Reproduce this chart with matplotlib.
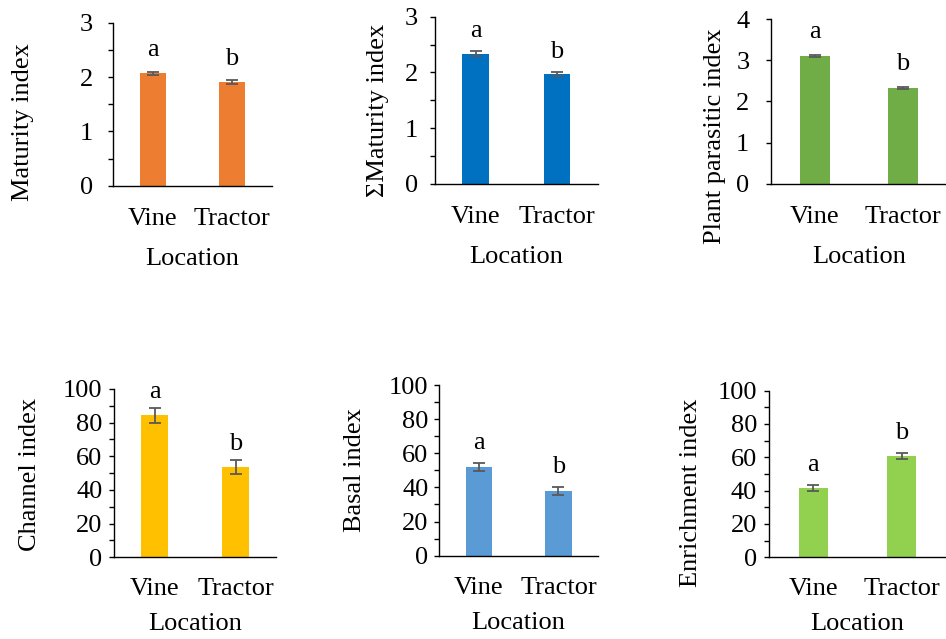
import matplotlib
matplotlib.use("Agg")
import matplotlib.pyplot as plt
from matplotlib.ticker import MultipleLocator

plt.rcParams['font.family'] = ['Liberation Serif', 'DejaVu Serif']

categories = ["Vine", "Tractor"]
ylabels = ["Maturity index", "\u03a3Maturity index", "Plant parasitic index",
           "Channel index", "Basal index", "Enrichment index"]
maturity = [2.07, 1.91]
maturity_err = [0.03, 0.03]
sum_maturity = [2.34, 1.97]
sum_maturity_err = [0.05, 0.04]
plant_parasitic = [3.11, 2.33]
plant_parasitic_err = [0.03, 0.03]
channel = [84.5, 53.7]
channel_err = [4.5, 4.4]
basal = [52.0, 37.9]
basal_err = [2.2, 2.2]
enrichment = [41.6, 60.6]
enrichment_err = [1.6, 1.7]
letters = [["a", "b"]] * 6

values = [maturity, sum_maturity, plant_parasitic, channel, basal, enrichment]
errors = [maturity_err, sum_maturity_err, plant_parasitic_err, channel_err, basal_err, enrichment_err]

colors = ["#ED7D31", "#0070C0", "#70AD47", "#FFC000", "#5B9BD5", "#92D050"]
ylims = [3, 3, 4, 100, 100, 100]
majors = [1, 1, 1, 20, 20, 20]
minors = [0.5, 0.5, 1, 10, 10, 10]
W, H = 946, 639
rects_px = [(113.3, 185.7, 158.4, 163.0), (435, 184.0, 162.7, 167.3), (771, 183.7, 176, 164.4),
            (114.3, 557.3, 161.7, 168.3), (439, 555.7, 159.3, 170.7), (769, 557.3, 177, 166.7)]
label_coords = [(-0.57, 0.39), (-0.35, 0.44), (-0.32, 0.29), (-0.52, 0.49), (-0.53, 0.50), (-0.44, 0.39)]
ypads = [11, 8.5, 12, 5, 4, 5]
letter_pads = [11, 10, 12, 7, 10.5, 10.5]
xpads = [16, 16, 16, 15, 15, 15]
xlabelpads = [13, 13, 13, 9.5, 9.5, 9.5]

fig = plt.figure(figsize=(W / 100, H / 100), dpi=100)
fs = 19
for i in range(6):
    l, b, w, h = rects_px[i]
    ax = fig.add_axes([l / W, 1 - b / H, w / W, h / H])
    x = list(range(len(categories)))
    ax.bar(x, values[i], width=0.33, color=colors[i], zorder=2)
    ax.errorbar(x, values[i], yerr=errors[i], fmt='none', ecolor='#595959',
                elinewidth=1.3, capsize=4, capthick=1.3, zorder=3)
    for j in x:
        ax.annotate(letters[i][j], (j, values[i][j] + errors[i][j]),
                    xytext=(0, letter_pads[i]), textcoords='offset points',
                    ha='center', va='baseline', fontsize=fs)
    ax.set_xlim(-0.5, 1.5)
    ax.set_ylim(0, ylims[i])
    ax.yaxis.set_major_locator(MultipleLocator(majors[i]))
    ax.yaxis.set_minor_locator(MultipleLocator(minors[i]))
    ax.set_xticks(x)
    ax.set_xticklabels(categories)
    for s in ['top', 'right']:
        ax.spines[s].set_visible(False)
    for s in ['left', 'bottom']:
        ax.spines[s].set_linewidth(1.0)
    ax.tick_params(axis='x', length=0, pad=xpads[i], labelsize=fs)
    ax.tick_params(axis='y', which='both', direction='out', length=3.6, width=1.0,
                   labelsize=fs, pad=ypads[i])
    ax.set_xlabel("Location", fontsize=fs, labelpad=xlabelpads[i])
    ax.set_ylabel(ylabels[i], fontsize=fs, va='center')
    ax.yaxis.set_label_coords(*label_coords[i])
    ax.set_facecolor('none')

fig.savefig("out.png", dpi=100)
